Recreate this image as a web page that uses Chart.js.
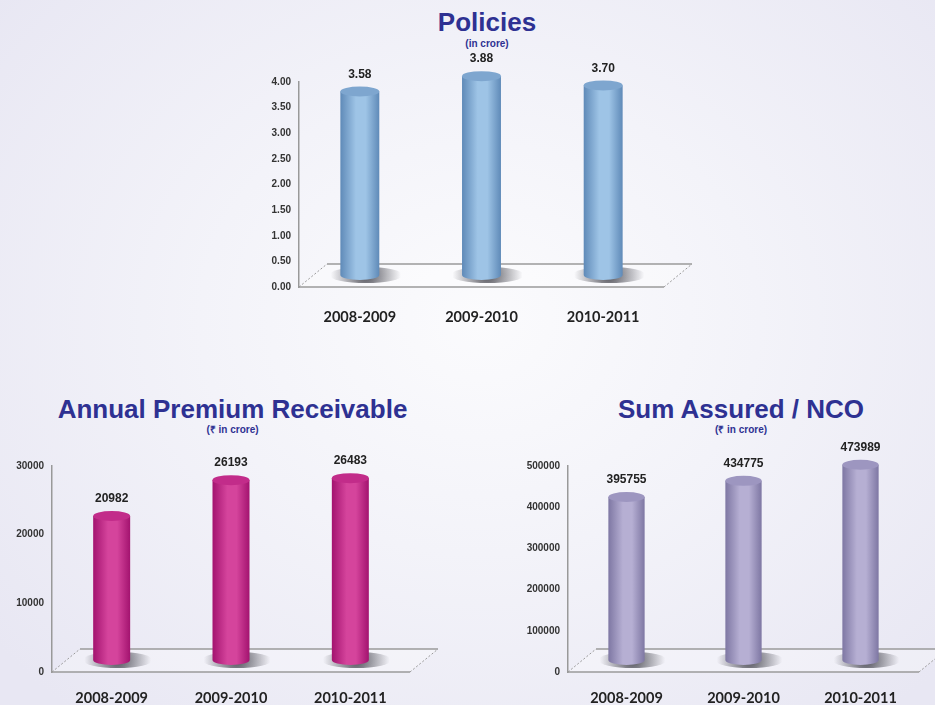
<!DOCTYPE html>
<html>
<head>
<meta charset="utf-8">
<script src="https://cdn.jsdelivr.net/npm/chart.js@4.4.1/dist/chart.umd.min.js"></script>
<style>
    html, body { margin: 0; padding: 0; }
    body {
        width: 935px; height: 705px; overflow: hidden; position: relative;
        background: radial-gradient(ellipse 620px 520px at 480px 320px, #fbfbfd 0%, #f3f3f9 45%, #e8e7f3 100%);
        font-family: "Liberation Sans", Arial, sans-serif;
    }
    .title { position: absolute; text-align: center; color: #2e3192; font-weight: bold; font-size: 26px; line-height: 28px; }
    .sub { position: absolute; text-align: center; color: #2e3192; font-weight: bold; font-size: 10px; line-height: 12px; }
    .box { position: absolute; }
</style>
</head>
<body>
<div class="title" style="left:287px;width:400px;top:8px;">Policies</div>
<div class="sub" style="left:287px;width:400px;top:38px;">(in crore)</div>
<div class="title" style="left:0px;width:465px;top:395px;">Annual Premium Receivable</div>
<div class="sub" style="left:0px;width:465px;top:424px;">(₹ in crore)</div>
<div class="title" style="left:541px;width:400px;top:395px;">Sum Assured / NCO</div>
<div class="sub" style="left:541px;width:400px;top:424px;">(₹ in crore)</div>

<div class="box" style="left:240px;top:40px;width:460px;height:290px;"><canvas id="policiesChart"></canvas></div>
<div class="box" style="left:0px;top:436px;width:450px;height:269px;"><canvas id="premiumChart"></canvas></div>
<div class="box" style="left:500px;top:436px;width:435px;height:269px;"><canvas id="sumChart"></canvas></div>

<script>
    // Datos
    const years = ['2008-2009', '2009-2010', '2010-2011'];
    const policies = [3.58, 3.88, 3.70];
    const premium = [20982, 26193, 26483];
    const sumAssured = [395755, 434775, 473989];

    const DEPTH = 12;

    // piso 3D + cilindros + etiquetas
    const cylinderPlugin = {
        id: 'cylinder',
        beforeDatasetsDraw(chart) {
            const ctx = chart.ctx;
            const a = chart.chartArea;
            const y0 = chart.scales.y.getPixelForValue(0);
            const dx = 28, dy = 23;
            ctx.save();
            ctx.fillStyle = 'rgba(255,255,255,0.3)';
            ctx.beginPath();
            ctx.moveTo(a.left, y0);
            ctx.lineTo(a.right, y0);
            ctx.lineTo(a.right + dx, y0 - dy);
            ctx.lineTo(a.left + dx, y0 - dy);
            ctx.closePath();
            ctx.fill();
            ctx.strokeStyle = '#9a9a9a';
            ctx.lineWidth = 1.5;
            ctx.beginPath();
            ctx.moveTo(a.left, y0); ctx.lineTo(a.right, y0);
            ctx.moveTo(a.left + dx, y0 - dy); ctx.lineTo(a.right + dx, y0 - dy);
            ctx.stroke();
            ctx.setLineDash([2, 2]);
            ctx.lineWidth = 1;
            ctx.beginPath();
            ctx.moveTo(a.left, y0); ctx.lineTo(a.left + dx, y0 - dy);
            ctx.moveTo(a.right, y0); ctx.lineTo(a.right + dx, y0 - dy);
            ctx.stroke();
            ctx.setLineDash([]);
            // sombras
            chart.getDatasetMeta(0).data.forEach(bar => {
                const g = ctx.createRadialGradient(bar.x + 6, y0 - DEPTH, 2, bar.x + 6, y0 - DEPTH, bar.width * 0.9);
                g.addColorStop(0, 'rgba(40,40,50,0.75)');
                g.addColorStop(1, 'rgba(40,40,50,0)');
                ctx.fillStyle = g;
                ctx.beginPath();
                ctx.ellipse(bar.x + 6, y0 - DEPTH, bar.width * 0.95, 8, 0, 0, Math.PI * 2);
                ctx.fill();
            });
            ctx.restore();
        },
        afterDatasetsDraw(chart, args, opts) {
            const ctx = chart.ctx;
            const ds = chart.data.datasets[0];
            chart.getDatasetMeta(0).data.forEach((bar, i) => {
                const w = bar.width, l = bar.x - w / 2;
                const top = bar.y - DEPTH, base = bar.base - DEPTH;
                const ry = 5;
                const g = ctx.createLinearGradient(l, 0, l + w, 0);
                g.addColorStop(0, opts.dark);
                g.addColorStop(0.4, opts.light);
                g.addColorStop(0.65, opts.light);
                g.addColorStop(1, opts.dark);
                ctx.save();
                ctx.fillStyle = g;
                ctx.beginPath();
                ctx.moveTo(l, top);
                ctx.lineTo(l, base);
                ctx.ellipse(bar.x, base, w / 2, ry, 0, Math.PI, 0, true);
                ctx.lineTo(l + w, top);
                ctx.closePath();
                ctx.fill();
                ctx.fillStyle = opts.cap;
                ctx.beginPath();
                ctx.ellipse(bar.x, top, w / 2, ry, 0, 0, Math.PI * 2);
                ctx.fill();
                ctx.fillStyle = '#222';
                ctx.font = 'bold 12px "Liberation Sans", Arial, sans-serif';
                ctx.textAlign = 'center';
                ctx.textBaseline = 'bottom';
                ctx.fillText(opts.fmt(ds.data[i]), bar.x, top - 11);
                ctx.restore();
            });
        }
    };

    function makeChart(id, data, cfg) {
        return new Chart(document.getElementById(id), {
            type: 'bar',
            data: {
                labels: years,
                datasets: [{
                    data: data,
                    backgroundColor: 'rgba(0,0,0,0)',
                    barPercentage: cfg.barPct,
                    categoryPercentage: 1
                }]
            },
            options: {
                responsive: true,
                maintainAspectRatio: false,
                animation: false,
                layout: { padding: { top: cfg.padTop, right: cfg.padRight, left: 0, bottom: 0 } },
                plugins: {
                    legend: { display: false },
                    tooltip: { enabled: false },
                    cylinder: cfg.style
                },
                scales: {
                    x: {
                        grid: { display: false, drawTicks: false },
                        border: { display: false },
                        ticks: {
                            padding: cfg.xPad,
                            color: '#222',
                            font: { family: 'Lato', weight: 'bold', size: 14.5 }
                        },
                        afterFit: s => { s.height = cfg.xHeight; }
                    },
                    y: {
                        min: 0,
                        max: cfg.max,
                        grid: { display: false, drawTicks: true, tickLength: 4, tickColor: '#999' },
                        border: { display: true, color: '#999', width: 1.5 },
                        ticks: {
                            stepSize: cfg.step,
                            padding: 4,
                            color: '#333',
                            font: { family: '"Liberation Sans", Arial', weight: 'bold', size: 10 },
                            callback: cfg.tickFmt
                        },
                        afterFit: s => { s.width = cfg.yWidth; }
                    }
                }
            },
            plugins: [cylinderPlugin]
        });
    }

    makeChart('policiesChart', policies, {
        max: 4, step: 0.5, tickFmt: v => v.toFixed(2),
        padTop: 42, padRight: 36, yWidth: 59, xHeight: 43, xPad: 22, barPct: 0.32,
        style: { dark: '#5f8ab8', light: '#9ec4e6', cap: '#7ea6cf', fmt: v => v.toFixed(2) }
    });

    makeChart('premiumChart', premium, {
        max: 30000, step: 10000, tickFmt: v => String(v),
        padTop: 30, padRight: 40, yWidth: 52, xHeight: 33, xPad: 18, barPct: 0.31,
        style: { dark: '#a3136f', light: '#d5449c', cap: '#c22c8a', fmt: v => String(v) }
    });

    makeChart('sumChart', sumAssured, {
        max: 500000, step: 100000, tickFmt: v => String(v),
        padTop: 30, padRight: 16, yWidth: 68, xHeight: 33, xPad: 18, barPct: 0.31,
        style: { dark: '#7e77a3', light: '#b6afd3', cap: '#9d96c0', fmt: v => String(v) }
    });
</script>
</body>
</html>
